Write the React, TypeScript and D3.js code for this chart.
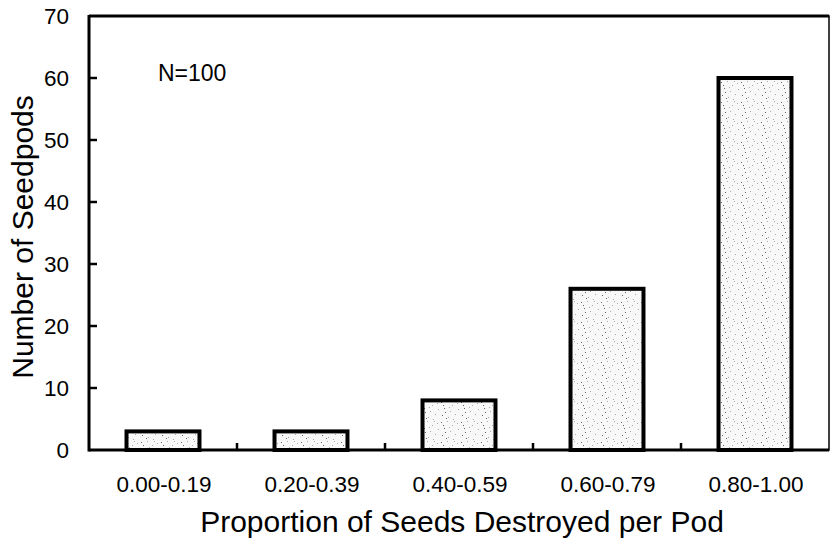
import React from "react";
import * as d3 from "d3";

const categories = ["0.00-0.19", "0.20-0.39", "0.40-0.59", "0.60-0.79", "0.80-1.00"];
const counts = [3, 3, 8, 26, 60];
const yTicks = [0, 10, 20, 30, 40, 50, 60, 70];
const xTitle = "Proportion of Seeds Destroyed per Pod";
const yTitle = "Number of Seedpods";
const note = "N=100";

const W = 831;
const H = 539;
const left = 89;
const right = 829;
const top = 16;
const bottom = 450;
const FONT = "'Liberation Sans', Arial, Helvetica, sans-serif";

const dots: [number, number][] = [
  [1, 2], [7, 1], [12, 5], [4, 8], [10, 11], [15, 14], [2, 15], [8, 17],
  [13, 19], [5, 12], [17, 3], [18, 9], [3, 5], [9, 7], [14, 1], [6, 18],
];

export default function App() {
  const x = d3.scaleBand<string>().domain(categories).range([left, right]).padding(0);
  const y = d3.scaleLinear().domain([0, 70]).range([bottom, top]);
  const barW = x.bandwidth() * 0.493;
  const boundaries = categories.slice(1).map((c) => x(c) as number);

  return (
    <svg
      width={W}
      height={H}
      style={{ position: "absolute", left: 0, top: 0, background: "#fff" }}
      fontFamily={FONT}
    >
      <defs>
        <pattern id="stipple" width={20} height={20} patternUnits="userSpaceOnUse">
          <rect width={20} height={20} fill="#f8f8f8" />
          {dots.map(([dx, dy], i) => (
            <rect key={i} x={dx} y={dy} width={1} height={1} fill={i % 3 === 0 ? "#666" : "#aaa"} />
          ))}
        </pattern>
      </defs>
      {/* frame */}
      <rect x={left} y={top} width={right - left} height={bottom - top} fill="none" stroke="#000" strokeWidth={1.5} />
      {/* bars */}
      {categories.map((c, i) => {
        const cx = (x(c) as number) + x.bandwidth() / 2;
        return (
          <rect
            key={c}
            x={cx - barW / 2}
            y={y(counts[i])}
            width={barW}
            height={bottom - y(counts[i])}
            fill="url(#stipple)"
            stroke="#000"
            strokeWidth={4}
          />
        );
      })}
      {/* axes */}
      <line x1={left} x2={left} y1={top - 1} y2={bottom + 1.5} stroke="#000" strokeWidth={3} />
      <line x1={left} x2={right} y1={bottom} y2={bottom} stroke="#000" strokeWidth={3} />
      <line x1={left} x2={right} y1={top} y2={top} stroke="#000" strokeWidth={3} />
      {/* y ticks */}
      {yTicks.map((t) => (
        <g key={t}>
          {t > 0 && t < 70 && (
            <line x1={left} x2={left + 8} y1={y(t)} y2={y(t)} stroke="#000" strokeWidth={2.5} />
          )}
          <text x={69} y={y(t)} dy="0.36em" textAnchor="end" fontSize={22.5} fill="#000">
            {t}
          </text>
        </g>
      ))}
      {/* x ticks at category boundaries */}
      {boundaries.map((b, i) => (
        <line key={i} x1={b} x2={b} y1={bottom} y2={bottom - 7} stroke="#000" strokeWidth={2.5} />
      ))}
      {categories.map((c) => (
        <text
          key={c}
          x={(x(c) as number) + x.bandwidth() / 2 + 1}
          y={492}
          textAnchor="middle"
          fontSize={22.5}
          fill="#000"
        >
          {c}
        </text>
      ))}
      <text x={462} y={532} textAnchor="middle" fontSize={30} fill="#000">
        {xTitle}
      </text>
      <text transform="translate(33,237) rotate(-90)" textAnchor="middle" fontSize={30} fill="#000">
        {yTitle}
      </text>
      <text x={158} y={81} fontSize={23} fill="#000">
        {note}
      </text>
    </svg>
  );
}
